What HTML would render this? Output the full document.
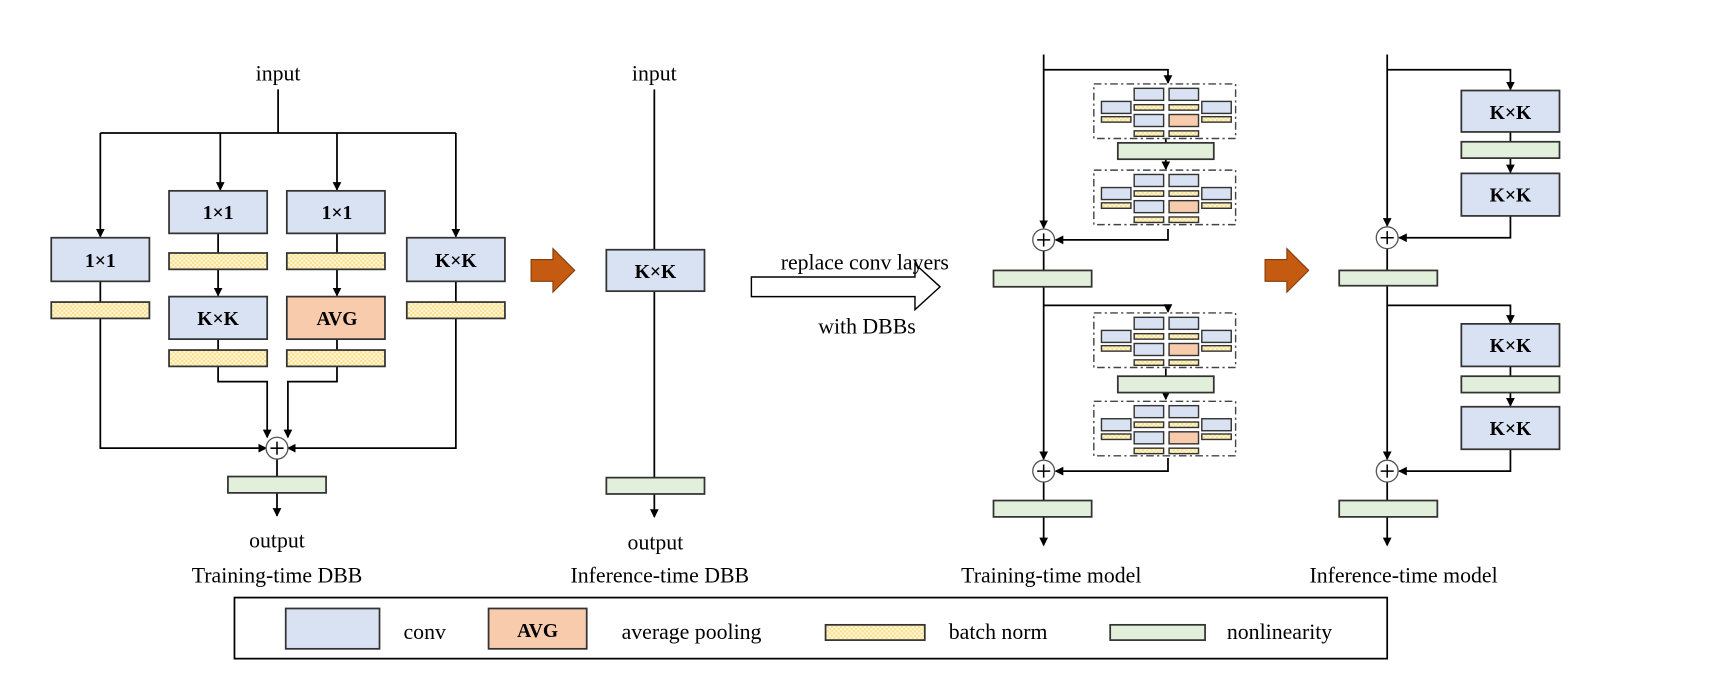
<!DOCTYPE html>
<html><head><meta charset="utf-8"><style>
html,body{margin:0;padding:0;background:#fff;}
svg{display:block;}
text{font-family:"Liberation Serif",serif;fill:#000;}
.b{font-weight:bold;font-size:18px;}
.t{font-size:20px;}
</style></head><body>
<svg width="1710" height="675" viewBox="0 0 1568 619" preserveAspectRatio="none" xmlns="http://www.w3.org/2000/svg">
<defs>
<pattern id="bn" width="4" height="4" patternUnits="userSpaceOnUse">
<rect width="4" height="4" fill="#fff8dc"/><rect width="2" height="2" fill="#f9df8a"/><rect x="2" y="2" width="2" height="2" fill="#f9df8a"/>
</pattern>
<marker id="a" markerWidth="8" markerHeight="8" refX="7" refY="4" orient="auto" markerUnits="userSpaceOnUse"><path d="M0,0 L8,4 L0,8 z" fill="#000"/></marker>
<g id="mini">
<rect x="0" y="0" width="130" height="50" fill="none" stroke="#444" stroke-width="1.3" stroke-dasharray="7,3,2,3"/>
<rect x="7" y="16" width="27" height="11" fill="#d9e2f3" stroke="#333" stroke-width="1.3"/>
<rect x="7" y="30" width="27" height="5" fill="url(#bn)" stroke="#333" stroke-width="1.3"/>
<rect x="37" y="4" width="27" height="11" fill="#d9e2f3" stroke="#333" stroke-width="1.3"/>
<rect x="37" y="19" width="27" height="5" fill="url(#bn)" stroke="#333" stroke-width="1.3"/>
<rect x="37" y="28" width="27" height="11" fill="#d9e2f3" stroke="#333" stroke-width="1.3"/>
<rect x="37" y="43" width="27" height="5" fill="url(#bn)" stroke="#333" stroke-width="1.3"/>
<rect x="69" y="4" width="27" height="11" fill="#d9e2f3" stroke="#333" stroke-width="1.3"/>
<rect x="69" y="19" width="27" height="5" fill="url(#bn)" stroke="#333" stroke-width="1.3"/>
<rect x="69" y="28" width="27" height="11" fill="#f8cbad" stroke="#333" stroke-width="1.3"/>
<rect x="69" y="43" width="27" height="5" fill="url(#bn)" stroke="#333" stroke-width="1.3"/>
<rect x="99" y="16" width="27" height="11" fill="#d9e2f3" stroke="#333" stroke-width="1.3"/>
<rect x="99" y="30" width="27" height="5" fill="url(#bn)" stroke="#333" stroke-width="1.3"/>
</g>
</defs>
<g stroke="#000" stroke-width="1.6" fill="none">
<path d="M255,82 V122 M92,122 H418"/>
<path d="M92,122 V217" marker-end="url(#a)"/>
<path d="M202,122 V174" marker-end="url(#a)"/>
<path d="M309,122 V174" marker-end="url(#a)"/>
<path d="M418,122 V217" marker-end="url(#a)"/>
<path d="M200,214 V232 M309,214 V232"/>
<path d="M200,247 V271" marker-end="url(#a)"/>
<path d="M309,247 V271" marker-end="url(#a)"/>
<path d="M200,311 V321 M309,311 V321 M92,258 V277 M418,258 V277"/>
<path d="M200,336 V350 H245 V401" marker-end="url(#a)"/>
<path d="M309,336 V350 H264 V401" marker-end="url(#a)"/>
<path d="M92,292 V411 H244" marker-end="url(#a)"/>
<path d="M418,292 V411 H264" marker-end="url(#a)"/>
<path d="M254,421 V437"/>
<path d="M254,452 V473" marker-end="url(#a)"/>
<path d="M600,82 V229 M600,267 V438"/>
<path d="M600,453 V474" marker-end="url(#a)"/>
<path d="M957,50 V209" marker-end="url(#a)"/>
<path d="M957,64 H1071 V76" marker-end="url(#a)"/>
<path d="M1069,127 V131"/>
<path d="M1069,146 V155" marker-end="url(#a)"/>
<path d="M1071,210 V220 H968" marker-end="url(#a)"/>
<path d="M957,230 V248 M957,263 V421" marker-end="url(#a)"/>
<path d="M957,280 H1071 V286" marker-end="url(#a)"/>
<path d="M1069,338 V345"/>
<path d="M1069,360 V366" marker-end="url(#a)"/>
<path d="M1071,420 V432 H968" marker-end="url(#a)"/>
<path d="M957,442 V459"/>
<path d="M957,474 V500" marker-end="url(#a)"/>
<path d="M1272,50 V207" marker-end="url(#a)"/>
<path d="M1272,64 H1385 V82" marker-end="url(#a)"/>
<path d="M1385,121 V130"/>
<path d="M1385,145 V158" marker-end="url(#a)"/>
<path d="M1385,198 V218 H1283" marker-end="url(#a)"/>
<path d="M1272,228 V248 M1272,262 V421" marker-end="url(#a)"/>
<path d="M1272,280 H1385 V296" marker-end="url(#a)"/>
<path d="M1385,336 V345"/>
<path d="M1385,360 V372" marker-end="url(#a)"/>
<path d="M1385,412 V432 H1283" marker-end="url(#a)"/>
<path d="M1272,442 V459"/>
<path d="M1272,474 V500" marker-end="url(#a)"/>
</g>
<g stroke="#333" stroke-width="1.6">
<rect x="47" y="218" width="90" height="40" fill="#d9e2f3"/>
<rect x="47" y="277" width="90" height="15" fill="url(#bn)"/>
<rect x="155" y="175" width="90" height="39" fill="#d9e2f3"/>
<rect x="155" y="232" width="90" height="15" fill="url(#bn)"/>
<rect x="155" y="272" width="90" height="39" fill="#d9e2f3"/>
<rect x="155" y="321" width="90" height="15" fill="url(#bn)"/>
<rect x="263" y="175" width="90" height="39" fill="#d9e2f3"/>
<rect x="263" y="232" width="90" height="15" fill="url(#bn)"/>
<rect x="263" y="272" width="90" height="39" fill="#f8cbad"/>
<rect x="263" y="321" width="90" height="15" fill="url(#bn)"/>
<rect x="373" y="218" width="90" height="40" fill="#d9e2f3"/>
<rect x="373" y="277" width="90" height="15" fill="url(#bn)"/>
<rect x="209" y="437" width="90" height="15" fill="#e2efda"/>
<rect x="556" y="229" width="90" height="38" fill="#d9e2f3"/>
<rect x="556" y="438" width="90" height="15" fill="#e2efda"/>
<rect x="1025" y="131" width="88" height="15" fill="#e2efda"/>
<rect x="911" y="248" width="90" height="15" fill="#e2efda"/>
<rect x="1025" y="345" width="88" height="15" fill="#e2efda"/>
<rect x="911" y="459" width="90" height="15" fill="#e2efda"/>
<rect x="1340" y="83" width="90" height="38" fill="#d9e2f3"/>
<rect x="1340" y="130" width="90" height="15" fill="#e2efda"/>
<rect x="1340" y="159" width="90" height="39" fill="#d9e2f3"/>
<rect x="1228" y="248" width="90" height="14" fill="#e2efda"/>
<rect x="1340" y="297" width="90" height="39" fill="#d9e2f3"/>
<rect x="1340" y="345" width="90" height="15" fill="#e2efda"/>
<rect x="1340" y="373" width="90" height="39" fill="#d9e2f3"/>
<rect x="1228" y="459" width="90" height="15" fill="#e2efda"/>
</g>
<use href="#mini" x="1003" y="77"/>
<use href="#mini" x="1003" y="156"/>
<use href="#mini" x="1003" y="287"/>
<use href="#mini" x="1003" y="368"/>
<g fill="#fff" stroke="#555" stroke-width="1.2">
<circle cx="254" cy="411" r="10"/><circle cx="957" cy="220" r="10"/><circle cx="957" cy="432" r="10"/>
<circle cx="1272" cy="218" r="10"/><circle cx="1272" cy="432" r="10"/>
</g>
<g stroke="#000" stroke-width="1.4">
<path d="M248,411 H260 M254,405 V417"/>
<path d="M951,220 H963 M957,214 V226"/>
<path d="M951,432 H963 M957,426 V438"/>
<path d="M1266,218 H1278 M1272,212 V224"/>
<path d="M1266,432 H1278 M1272,426 V438"/>
</g>
<path d="M487,238 H507 V228 L527,248 L507,268 V258 H487 Z" fill="#c55a11" stroke="#843c0c" stroke-width="1"/>
<path d="M1160,238 H1180 V228 L1200,248 L1180,268 V258 H1160 Z" fill="#c55a11" stroke="#843c0c" stroke-width="1"/>
<path d="M689,254 H839 V242 L862,263 L839,284 V272 H689 Z" fill="#fff" stroke="#000" stroke-width="1.3"/>
<g class="b" text-anchor="middle">
<text x="92" y="245">1×1</text>
<text x="200" y="201">1×1</text>
<text x="309" y="201">1×1</text>
<text x="200" y="298">K×K</text>
<text x="309" y="298">AVG</text>
<text x="418" y="245">K×K</text>
<text x="601" y="255">K×K</text>
<text x="1385" y="109">K×K</text>
<text x="1385" y="185">K×K</text>
<text x="1385" y="323">K×K</text>
<text x="1385" y="399">K×K</text>
</g>
<g class="t" text-anchor="middle">
<text x="255" y="74">input</text>
<text x="254" y="502">output</text>
<text x="254" y="534">Training-time DBB</text>
<text x="600" y="74">input</text>
<text x="601" y="504">output</text>
<text x="605" y="534">Inference-time DBB</text>
<text x="793" y="247">replace conv layers</text>
<text x="795" y="306">with DBBs</text>
<text x="964" y="534">Training-time model</text>
<text x="1287" y="534">Inference-time model</text>
</g>
<rect x="215" y="548" width="1057" height="56" fill="none" stroke="#000" stroke-width="1.6"/>
<g stroke="#333" stroke-width="1.6">
<rect x="262" y="558" width="86" height="37" fill="#d9e2f3"/>
<rect x="448" y="558" width="90" height="37" fill="#f8cbad"/>
<rect x="757" y="573" width="91" height="14" fill="url(#bn)"/>
<rect x="1018" y="573" width="87" height="14" fill="#e2efda"/>
</g>
<text class="b" x="493" y="584" text-anchor="middle">AVG</text>
<g class="t">
<text x="370" y="586">conv</text>
<text x="570" y="586">average pooling</text>
<text x="870" y="586">batch norm</text>
<text x="1125" y="586">nonlinearity</text>
</g>
</svg>
</body></html>
